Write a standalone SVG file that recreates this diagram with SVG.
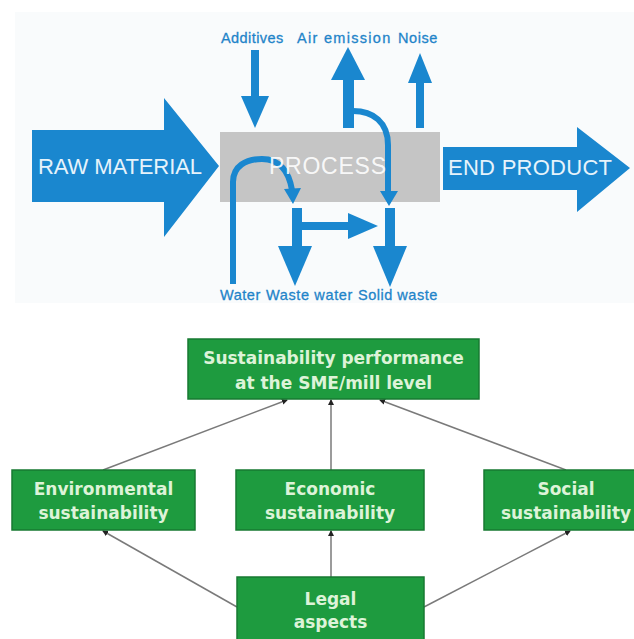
<svg xmlns="http://www.w3.org/2000/svg" width="634" height="639" viewBox="0 0 634 639">
<defs>
<style>
.blue{fill:#1a87cf}
.line{fill:none;stroke:#1a87cf;stroke-width:6}
.lbl{font-family:"Liberation Sans",Arial,sans-serif;font-size:14.5px;fill:#1f84c9;letter-spacing:-0.3px;stroke:#1f84c9;stroke-width:0.3}
.big{font-family:"Liberation Sans",Arial,sans-serif;font-size:22px;fill:#e6f3fb}
.box{fill:#1e9b3f;stroke:#177a32;stroke-width:1.5}
.gt{font-family:"DejaVu Sans",Verdana,sans-serif;font-weight:bold;font-size:17px;fill:#ddf3d8;text-anchor:middle}
.conn{fill:none;stroke:#7a7a7a;stroke-width:1.5;marker-end:url(#ah)}
</style>
<marker id="ah" markerWidth="6" markerHeight="6" refX="5" refY="3" orient="auto" markerUnits="userSpaceOnUse">
<path d="M0,0 L6,3 L0,6 Z" fill="#222"/>
</marker>
</defs>
<rect width="634" height="639" fill="#ffffff"/>
<rect x="15" y="12" width="619" height="291" fill="#f9fbfc"/>

<g id="process">
<rect x="220" y="132" width="220" height="70" fill="#c5c5c5"/>
</g>

<g id="raw-material">
<polygon class="blue" points="32,130 164,130 164,98 219,166 164,237 164,202 32,202"/>
<text class="big" x="38" y="174" textLength="164">RAW MATERIAL</text>
</g>

<g id="end-product">
<polygon class="blue" points="443,147 577,147 577,127 630,168 577,212 577,190 443,190"/>
<text class="big" x="448" y="175" textLength="164">END PRODUCT</text>
</g>

<g id="flows">
<!-- Additives -->
<rect class="blue" x="251" y="50" width="8" height="48"/>
<polygon class="blue" points="241,96 269,96 255,128"/>
<!-- Air emission -->
<rect class="blue" x="343" y="76" width="11" height="52"/>
<polygon class="blue" points="331,80 365,80 348,47"/>
<!-- Noise -->
<rect class="blue" x="416" y="80" width="8" height="48"/>
<polygon class="blue" points="408,83 432,83 420,53"/>
<!-- Air emission curve to solid waste -->
<path class="line" d="M353,111 C373,111 388,122 388,145 L388,193"/>
<polygon class="blue" points="380,191 398,191 389,206"/>
<!-- Water curve -->
<path class="line" d="M233,284 L233,182 C233,166 246,159 262,159 C280,159 289,172 292,190"/>
<polygon class="blue" points="284,189 301,188 293,204"/>
<!-- Waste water -->
<rect class="blue" x="292" y="208" width="10" height="40"/>
<polygon class="blue" points="278,246 312,246 295,286"/>
<!-- horizontal -->
<rect class="blue" x="300" y="222" width="52" height="8"/>
<polygon class="blue" points="348,213 378,226 348,239"/>
<!-- Solid waste -->
<rect class="blue" x="385" y="208" width="10" height="40"/>
<polygon class="blue" points="373,246 407,246 390,287"/>
</g>

<g id="process-label">
<text x="269" y="174" font-family="Liberation Sans,Arial,sans-serif" font-size="23" fill="#ffffff" fill-opacity="0.9" textLength="117">PROCESS</text>
</g>

<g id="labels">
<text class="lbl" x="221" y="43" textLength="62">Additives</text>
<text class="lbl" x="297" y="43" textLength="93">Air emission</text>
<text class="lbl" x="398" y="43" textLength="39">Noise</text>
<text class="lbl" x="220" y="300" textLength="40">Water</text>
<text class="lbl" x="266" y="300" textLength="86">Waste water</text>
<text class="lbl" x="358" y="300" textLength="79">Solid waste</text>
</g>

<g id="connectors">
<line class="conn" x1="103" y1="470" x2="287" y2="400"/>
<line class="conn" x1="331" y1="470" x2="331" y2="400"/>
<line class="conn" x1="566" y1="470" x2="380" y2="400"/>
<line class="conn" x1="237" y1="607" x2="103" y2="531"/>
<line class="conn" x1="331" y1="577" x2="331" y2="531"/>
<line class="conn" x1="424" y1="607" x2="570" y2="531"/>
</g>

<g id="performance">
<rect class="box" x="188" y="339" width="291" height="60"/>
<text class="gt" x="333.5" y="364">Sustainability performance</text>
<text class="gt" x="333.5" y="389">at the SME/mill level</text>
</g>
<g id="environmental">
<rect class="box" x="12" y="470" width="183" height="60"/>
<text class="gt" x="103.5" y="495">Environmental</text>
<text class="gt" x="103.5" y="519">sustainability</text>
</g>
<g id="economic">
<rect class="box" x="236" y="470" width="188" height="60"/>
<text class="gt" x="330" y="495">Economic</text>
<text class="gt" x="330" y="519">sustainability</text>
</g>
<g id="social">
<rect class="box" x="484" y="470" width="152" height="60"/>
<text class="gt" x="566" y="495">Social</text>
<text class="gt" x="566" y="519">sustainability</text>
</g>
<g id="legal">
<rect class="box" x="237" y="577" width="187" height="64"/>
<text class="gt" x="330.5" y="605">Legal</text>
<text class="gt" x="330.5" y="628">aspects</text>
</g>
</svg>
